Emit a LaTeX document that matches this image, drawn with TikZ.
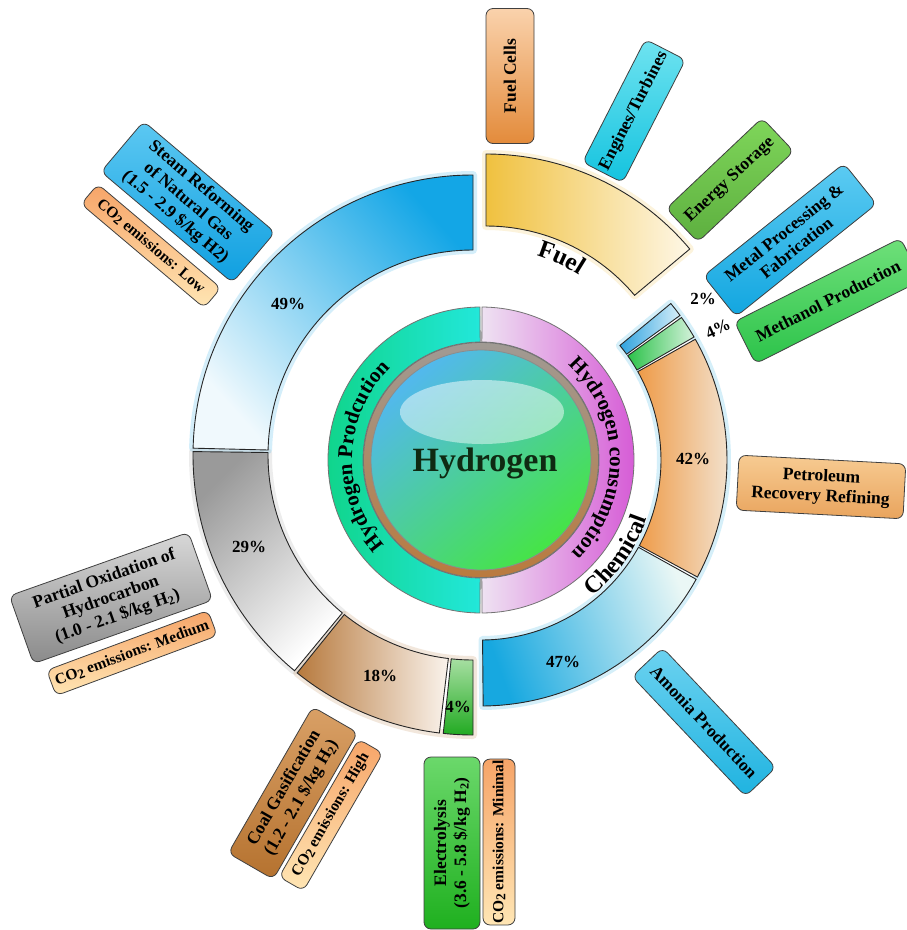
\documentclass[tikz,border=0pt]{standalone}
\usepackage{fontspec}
\setmainfont{Liberation Serif}
\usetikzlibrary{decorations.text}
\definecolor{bluS}{HTML}{13A6E6}
\definecolor{bluL}{HTML}{F0F9FD}
\definecolor{grayS}{HTML}{9A9A9A}
\definecolor{brnS}{HTML}{B77A3E}
\definecolor{brnL}{HTML}{FAF3EC}
\definecolor{grnT}{HTML}{A7DFA2}
\definecolor{grnB}{HTML}{22AA22}
\definecolor{fuelS}{HTML}{F0C13F}
\definecolor{fuelL}{HTML}{FEF7E6}
\definecolor{b2S}{HTML}{2FA3DF}
\definecolor{b2L}{HTML}{D6EEF9}
\definecolor{g4S}{HTML}{2CC24A}
\definecolor{g4L}{HTML}{D5F2DC}
\definecolor{orS}{HTML}{EE9B48}
\definecolor{orL}{HTML}{F3E8DA}
\definecolor{b47S}{HTML}{17A8E0}
\definecolor{b47L}{HTML}{EAF7F5}
\definecolor{ringG}{HTML}{10D58C}
\definecolor{ringC}{HTML}{22E7DA}
\definecolor{ringP}{HTML}{EEE2F2}
\definecolor{ringM}{HTML}{D65CD6}
\definecolor{ballB}{HTML}{52B8EE}
\definecolor{ballM}{HTML}{D2F4F0}
\definecolor{ballG}{HTML}{46E446}
\definecolor{brR}{HTML}{BA7A3E}
\definecolor{brG}{HTML}{A09A94}
\definecolor{hydro}{HTML}{0F2A12}
\definecolor{fcT}{HTML}{FAD2AC}
\definecolor{fcB}{HTML}{E38B3B}
\definecolor{cyT}{HTML}{6FE3F0}
\definecolor{cyB}{HTML}{14C3DF}
\definecolor{esT}{HTML}{7FD65A}
\definecolor{esB}{HTML}{5DAF3F}
\definecolor{blT}{HTML}{5CCBF2}
\definecolor{blB}{HTML}{12A6E0}
\definecolor{meT}{HTML}{6FE07A}
\definecolor{meB}{HTML}{2CC34A}
\definecolor{peT}{HTML}{F7CB92}
\definecolor{peB}{HTML}{E9A45D}
\definecolor{amT}{HTML}{6CD2F0}
\definecolor{amB}{HTML}{1FB3E0}
\definecolor{stT}{HTML}{5CC8F2}
\definecolor{stB}{HTML}{0F9FE0}
\definecolor{paT}{HTML}{D8D8D8}
\definecolor{paB}{HTML}{8A8A8A}
\definecolor{coT}{HTML}{D9A066}
\definecolor{coB}{HTML}{B5722F}
\definecolor{elT}{HTML}{6BD86B}
\definecolor{elB}{HTML}{1FB01F}
\definecolor{emT}{HTML}{F6A468}
\definecolor{emB}{HTML}{FFE6B4}
\newcommand\ringseg[7]{\path[#7] ({#1+(#4)*cos(#5)},{#2+(#4)*sin(#5)}) arc[start angle=#5,end angle=#6,radius=#4] -- ({#1+(#3)*cos(#6)},{#2+(#3)*sin(#6)}) arc[start angle=#6,end angle=#5,radius=#3] -- cycle;}
\newcommand\cotwo{CO\raisebox{-0.3ex}{\fontsize{13.5}{13.5}\selectfont 2}}
\tikzset{
  seg/.style={draw=black!85, line width=0.9pt},
  glow/.style={draw=#1, line width=8pt, draw opacity=0.18, line join=round},
  lbl/.style={draw=black!75, line width=0.8pt, rounded corners=7pt, align=center,
    font=\fontsize{17.5}{20}\selectfont\bfseries, inner sep=1pt, text=black},
  emis/.style={lbl, top color=emT, bottom color=emB, font=\fontsize{15.5}{15.5}\selectfont\bfseries},
  pct/.style={font=\fontsize{17}{17}\selectfont\bfseries}
}
\begin{document}
\begin{tikzpicture}[x=1pt,y=1pt]
\useasboundingbox (0,0) rectangle (906,-930);
\fill[white] (0,0) rectangle (906,-930);

% soft glows
\ringseg{473}{-455}{205}{280}{90}{178.6}{glow=bluS}
\ringseg{473}{-455}{205}{280}{179.3}{230.4}{glow=black!40}
\ringseg{473}{-455}{205}{280}{231.1}{270}{glow=brnS}
\ringseg{486}{-420}{194}{266}{90}{40}{glow=fuelS}
\ringseg{481}{-460}{180}{246}{39.5}{-89.5}{glow=b47S}

% production ring
\ringseg{473}{-455}{205}{280}{90}{178.6}{seg, top color=bluS, bottom color=bluL, shading angle=-48}
\ringseg{473}{-455}{205}{280}{179.3}{230.4}{seg, top color=grayS, bottom color=white, shading angle=45}
\ringseg{473}{-455}{205}{280}{231.1}{263.1}{seg, top color=brnS, bottom color=brnL, shading angle=90}
\ringseg{473}{-455}{205}{280}{263.9}{270}{seg, top color=grnT, bottom color=grnB}

% fuel ring
\ringseg{486}{-420}{194}{266}{90}{40}{seg, top color=fuelS, bottom color=fuelL, shading angle=90}

% chemical ring
\ringseg{481}{-460}{180}{246}{39.5}{36}{seg, top color=b2S, bottom color=b2L, shading angle=90}
\ringseg{481}{-460}{180}{246}{35.4}{30}{seg, top color=g4S, bottom color=g4L, shading angle=90}
\ringseg{481}{-460}{180}{246}{29.4}{-28.4}{seg, top color=orS, bottom color=orL, shading angle=90}
\ringseg{481}{-460}{180}{246}{-29}{-89.5}{seg, top color=b47S, bottom color=b47L, shading angle=110}

% inner ring
\ringseg{481}{-460}{118}{153}{90.4}{269.6}{draw=black!55, line width=0.8pt, top color=ringG, bottom color=ringC, shading angle=90}
\ringseg{481}{-460}{118}{153}{89.6}{-89.6}{draw=black!55, line width=0.8pt, top color=ringP, bottom color=ringM, shading angle=90}

% ball
\path[draw=black!55, line width=0.8pt, top color=brG, bottom color=brR] (481,-460) circle (117.5);
\path[draw=black!45, line width=0.8pt, top color=ballB, middle color=ballM, bottom color=ballG, shading angle=40] (481,-460) circle (110);
\path[top color=white, bottom color=white!60!ballM, fill opacity=0.5] (482,-412) ellipse [x radius=82, y radius=32];
\node[font=\fontsize{34}{34}\selectfont\bfseries, text=hydro] (hyd) at (485,-463) {Hydrogen};

% ring texts
\path[decorate, decoration={text along path, text align=center,
  text={|\fontsize{21}{21}\selectfont\bfseries|Hydrogen Prodcution}}]
  ({481+129*cos(221)},{-460+129*sin(221)}) arc[start angle=221, end angle=135, radius=129];
\path[decorate, decoration={text along path, text align=center,
  text={|\fontsize{21}{21}\selectfont\bfseries|Hydrogen consumption}}]
  ({481+129*cos(50)},{-460+129*sin(50)}) arc[start angle=50, end angle=-48, radius=129];
\path[decorate, decoration={text along path, text align=center,
  text={|\fontsize{25}{25}\selectfont\bfseries|Fuel}}]
  ({486+172*cos(80)},{-420+172*sin(80)}) arc[start angle=80, end angle=50, radius=172];
\path[decorate, decoration={text along path, text align=center,
  text={|\fontsize{24}{24}\selectfont\bfseries|Chemical}}]
  ({481+176*cos(-58)},{-460+176*sin(-58)}) arc[start angle=-58, end angle=-12, radius=176];

% percentages
\node[pct] (p49) at (288,-304) {49\%};
\node[pct] (p29) at (249,-547) {29\%};
\node[pct] (p18) at (380,-676) {18\%};
\node[pct] (p4a) at (458,-707) {4\%};
\node[pct] (p47) at (563,-662) {47\%};
\node[pct] (p42) at (693,-459) {42\%};
\node[pct] (p2) at (703,-299) {2\%};
\node[pct, rotate=25] (p4b) at (718,-329) {4\%};

% labels
\node[lbl, rotate=90, minimum width=135, minimum height=48, top color=fcT, bottom color=fcB] (fc) at (510,-76) {Fuel Cells};
\node[lbl, rotate=62.9, minimum width=138, minimum height=45, top color=cyT, bottom color=cyB] (et) at (634,-111) {Engines/Turbines};
\node[lbl, rotate=43.4, minimum width=132, minimum height=46, top color=esT, bottom color=esB] (es) at (730,-180) {Energy Storage};
\node[lbl, rotate=38.7, minimum width=180, minimum height=52, top color=blT, bottom color=blB] (mp) at (790,-240) {Metal Processing \&\\Fabrication};
\node[lbl, rotate=26.7, minimum width=186, minimum height=47, top color=meT, bottom color=meB] (me) at (828,-301) {Methanol Production};
\node[lbl, rotate=-3, minimum width=167, minimum height=55, top color=peT, bottom color=peB] (pe) at (821,-487) {Petroleum\\Recovery Refining};
\node[lbl, rotate=-46.6, minimum width=165, minimum height=42, top color=amT, bottom color=amB] (am) at (704,-722) {Amonia Production};

\node[lbl, rotate=-40.2, minimum width=172, minimum height=66, top color=stT, bottom color=stB] (st) at (188,-202) {Steam Reforming\\of Natural Gas\\(1.5 - 2.9 \$/kg H2)};
\node[emis, rotate=-40.2, minimum width=161, minimum height=26] (stE) at (151,-246) {\cotwo{} emissions: Low};

\node[lbl, rotate=19.5, minimum width=190, minimum height=72, top color=paT, bottom color=paB] (pa) at (111,-598) {Partial Oxidation of\\Hydrocarbon\\(1.0 - 2.1 \$/kg H\textsubscript{2})};
\node[emis, rotate=20.4, minimum width=172, minimum height=27] (paE) at (132,-653) {\cotwo{} emissions: Medium};

\node[lbl, rotate=60, minimum width=169, minimum height=52, top color=coT, bottom color=coB] (co) at (293,-793) {Coal Gasification\\(1.2 - 2.1 \$/kg H\textsubscript{2})};
\node[emis, rotate=60, minimum width=159, minimum height=28] (coE) at (331,-815) {\cotwo{} emissions: High};

\node[lbl, rotate=90, minimum width=172, minimum height=56, top color=elT, bottom color=elB] (el) at (452,-843) {Electrolysis\\(3.6 - 5.8 \$/kg H\textsubscript{2})};
\node[emis, rotate=90, minimum width=165, minimum height=32] (elE) at (499,-842) {\cotwo{} emissions: Minimal};
\end{tikzpicture}
\end{document}
